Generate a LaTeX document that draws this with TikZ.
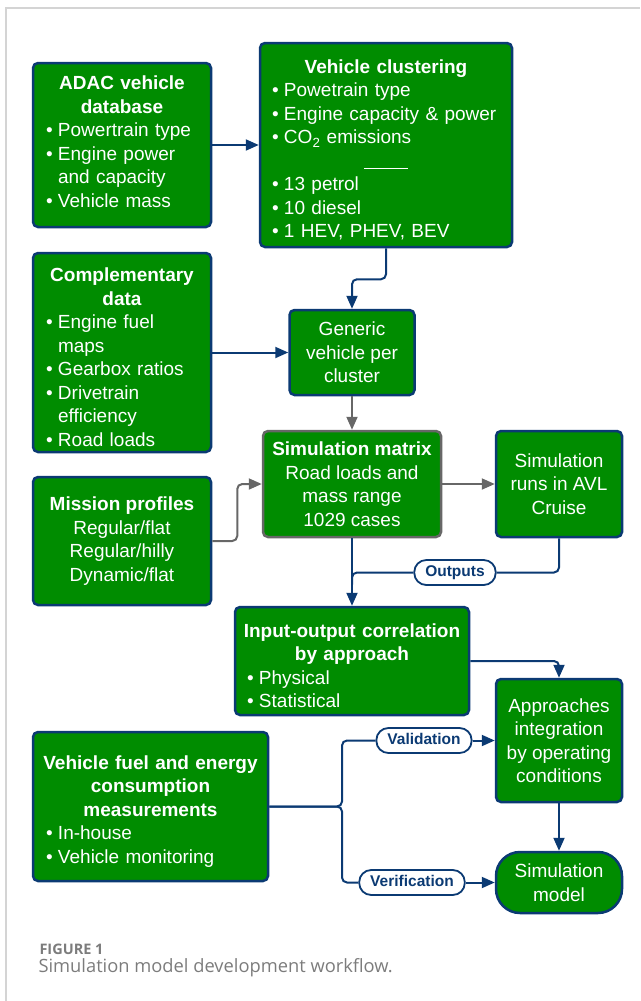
\documentclass[tikz,border=0pt]{standalone}
\usepackage{fontspec}
\setmainfont{Liberation Sans}
\newfontfamily\capfont{Open Sans}
\usetikzlibrary{arrows.meta,calc}
\definecolor{boxgreen}{HTML}{008C00}
\definecolor{navy}{HTML}{0B3A73}
\definecolor{greyline}{HTML}{676767}
\definecolor{capgray}{HTML}{7C7C7C}
\definecolor{framegray}{HTML}{D4D4D4}
\newcommand{\boxhead}[1]{\par\noindent\makebox[\hsize]{\bfseries #1}\par}
\newcommand{\bitem}{\par\noindent\makebox[12pt][l]{\textbullet}}
\newcommand{\bnext}{\par\noindent\hspace*{12pt}}

\begin{document}
\begin{tikzpicture}[x=1pt,y=-1pt,
  box/.style={draw=navy,fill=boxgreen,line width=2.5pt,rounded corners=5pt,text=white,
    font=\fontsize{19}{23.5}\selectfont,inner xsep=0pt,inner ysep=0pt,align=left},
  cbox/.style={box,align=center},
  pill/.style={draw=navy,fill=white,line width=1.8pt,rounded corners=12pt,text=navy,
    font=\bfseries\fontsize{15.5}{18}\selectfont,minimum height=25,inner xsep=11pt,
    text height=11pt,text depth=3pt},
  arr/.style={-{Triangle[length=13pt,width=11pt]},line width=2pt,draw=navy,rounded corners=5pt},
  garr/.style={arr,draw=greyline},
  link/.style={line width=2pt,draw=navy,rounded corners=5pt}]
\useasboundingbox (0,0) rectangle (640,1001);
\draw[framegray,line width=1.2pt] (6,1001) -- (6,8) -- (640,8);

% input data and clustering
\node[box,minimum width=178,minimum height=164,text width=152] (adac) at (122,145)
  {\boxhead{ADAC vehicle}\boxhead{database}\bitem Powertrain type\bitem Engine power\bnext and capacity\bitem Vehicle mass\par\kern16pt};
\node[box,minimum width=252,minimum height=204,text width=228] (clus) at (386,145)
  {\boxhead{Vehicle clustering}\bitem Powetrain type\bitem Engine capacity \& power\bitem CO\textsubscript{2} emissions
   \par\noindent\makebox[\hsize]{\rule[-2pt]{44pt}{1.2pt}}\bitem 13 petrol\bitem 10 diesel\bitem 1 HEV, PHEV, BEV};
\node[box,minimum width=178,minimum height=199,text width=152] (comp) at (122,352.5)
  {\boxhead{Complementary}\boxhead{data}\bitem Engine fuel\bnext maps\bitem Gearbox ratios\bitem Drivetrain\bnext efficiency\bitem Road loads};
\node[cbox,minimum width=125,minimum height=85] (gen) at (352,352.5) {Generic\\vehicle per\\cluster};

% simulation
\node[cbox,draw=greyline,minimum width=178,minimum height=106] (mat) at (352,484)
  {\textbf{Simulation matrix}\\Road loads and\\mass range\\1029 cases};
\node[cbox,minimum width=126,minimum height=106] (avl) at (559,484) {Simulation\\runs in AVL\\Cruise};
\node[cbox,minimum width=178,minimum height=128] (mis) at (122,541)
  {\textbf{Mission profiles}\\Regular/flat\\Regular/hilly\\Dynamic/flat};
\node[box,minimum width=234,minimum height=108,text width=210] (io) at (352,661)
  {\boxhead{Input-output correlation}\boxhead{by approach}\bitem Physical\bitem Statistical};
\node[cbox,minimum width=126,minimum height=123] (app) at (559,740.5)
  {Approaches\\integration\\by operating\\conditions};
\node[box,minimum width=235,minimum height=149,text width=209] (veh) at (150.5,806.5)
  {\boxhead{Vehicle fuel and energy}\boxhead{consumption}\boxhead{measurements}\bitem In-house\bitem Vehicle monitoring};
\node[cbox,minimum width=126,minimum height=61,rounded corners=24pt] (simm) at (559,882.5) {Simulation\\model};

% labels on the links
\node[pill] (out) at (455,572.5) {Outputs};
\node[pill] (val) at (424,740.5) {Validation};
\node[pill] (ver) at (412,882.5) {Verification};

\foreach \a/\b in {adac/clus,comp/gen,mat/io,val/app,ver/simm,app/simm}
  \draw[arr] (\a) -- (\b);
\foreach \a/\b in {gen/mat,mat/avl}
  \draw[garr] (\a) -- (\b);
\draw[arr] (clus.south) -- ++(0,31) -| (gen.north);
\draw[garr] (mis.east) -- ++(25,0) |- (mat.west);
\draw[link] (avl.south) |- (out.east);
\draw[link] (out.west) -| ($(out.west -| mat.south)+(0,12)$);
\draw[arr] (io.east) -| (app.north);
\coordinate (split) at (342,806.5);
\draw[link] (veh.east) -- (split) |- (val.west);
\draw[link] (veh.east) -- (split) |- (ver.west);

\node[anchor=west,font=\capfont\bfseries\fontsize{14.5}{17}\selectfont,text=capgray] (fig) at (36,949) {FIGURE 1};
\node[anchor=west,font=\capfont\fontsize{18.3}{21}\selectfont,text=capgray] (cap) at (35,968) {Simulation model development workflow.};
\end{tikzpicture}
\end{document}
